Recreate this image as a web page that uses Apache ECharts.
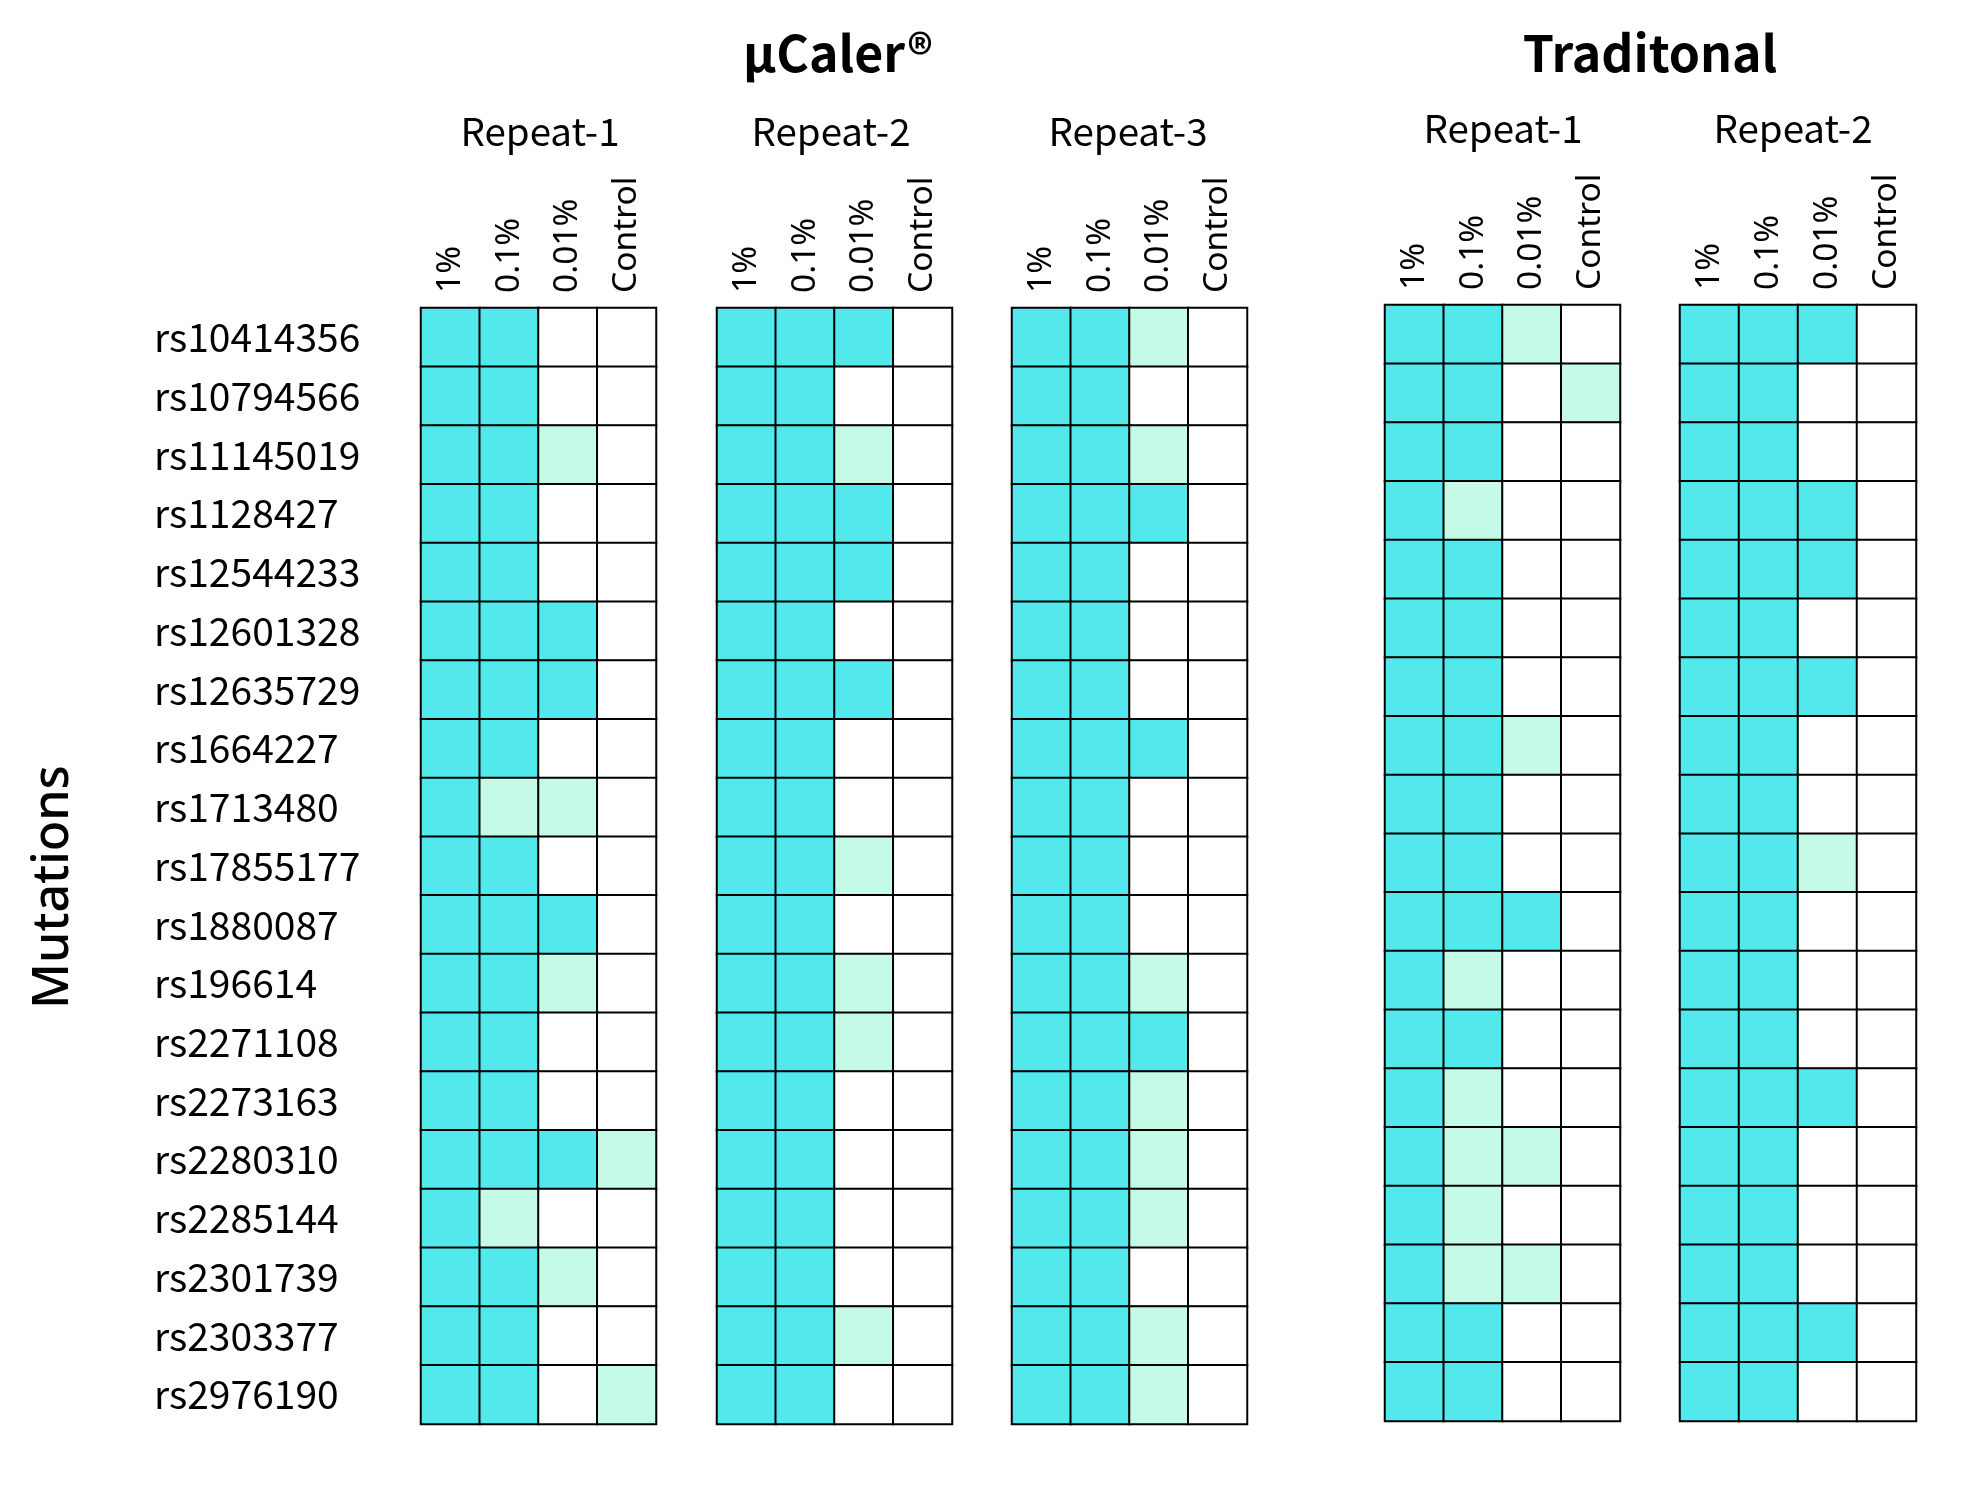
<!DOCTYPE html>
<html>
<head>
<meta charset="utf-8">
<script src="https://cdn.jsdelivr.net/npm/echarts@6/dist/echarts.min.js"></script>
<style>
html,body{margin:0;padding:0;background:#fff;}
#chart{width:1973px;height:1497px;}
</style>
</head>
<body>
<div id="chart"></div>
<script>
// ---- data ----
const mutations = ['rs10414356','rs10794566','rs11145019','rs1128427','rs12544233','rs12601328','rs12635729','rs1664227','rs1713480','rs17855177','rs1880087','rs196614','rs2271108','rs2273163','rs2280310','rs2285144','rs2301739','rs2303377','rs2976190'];
const conditions = ['1%','0.1%','0.01%','Control'];
const groupNames = ['µCaler®','Traditonal'];
const repeatNames = ['Repeat-1','Repeat-2','Repeat-3','Repeat-1','Repeat-2'];
// 2 = detected (cyan), 1 = weak (mint), 0 = not detected (white)
const ucalerRepeat1 = [[2,2,0,0],[2,2,0,0],[2,2,1,0],[2,2,0,0],[2,2,0,0],[2,2,2,0],[2,2,2,0],[2,2,0,0],[2,1,1,0],[2,2,0,0],[2,2,2,0],[2,2,1,0],[2,2,0,0],[2,2,0,0],[2,2,2,1],[2,1,0,0],[2,2,1,0],[2,2,0,0],[2,2,0,1]];
const ucalerRepeat2 = [[2,2,2,0],[2,2,0,0],[2,2,1,0],[2,2,2,0],[2,2,2,0],[2,2,0,0],[2,2,2,0],[2,2,0,0],[2,2,0,0],[2,2,1,0],[2,2,0,0],[2,2,1,0],[2,2,1,0],[2,2,0,0],[2,2,0,0],[2,2,0,0],[2,2,0,0],[2,2,1,0],[2,2,0,0]];
const ucalerRepeat3 = [[2,2,1,0],[2,2,0,0],[2,2,1,0],[2,2,2,0],[2,2,0,0],[2,2,0,0],[2,2,0,0],[2,2,2,0],[2,2,0,0],[2,2,0,0],[2,2,0,0],[2,2,1,0],[2,2,2,0],[2,2,1,0],[2,2,1,0],[2,2,1,0],[2,2,0,0],[2,2,1,0],[2,2,1,0]];
const tradRepeat1 = [[2,2,1,0],[2,2,0,1],[2,2,0,0],[2,1,0,0],[2,2,0,0],[2,2,0,0],[2,2,0,0],[2,2,1,0],[2,2,0,0],[2,2,0,0],[2,2,2,0],[2,1,0,0],[2,2,0,0],[2,1,0,0],[2,1,1,0],[2,1,0,0],[2,1,1,0],[2,2,0,0],[2,2,0,0]];
const tradRepeat2 = [[2,2,2,0],[2,2,0,0],[2,2,0,0],[2,2,2,0],[2,2,2,0],[2,2,0,0],[2,2,2,0],[2,2,0,0],[2,2,0,0],[2,2,1,0],[2,2,0,0],[2,2,0,0],[2,2,0,0],[2,2,2,0],[2,2,0,0],[2,2,0,0],[2,2,0,0],[2,2,2,0],[2,2,0,0]];

// ---- layout ----
const panels = [ucalerRepeat1, ucalerRepeat2, ucalerRepeat3, tradRepeat1, tradRepeat2];
const gridBoxes = [
  {left:421, top:308, width:235, height:1116},
  {left:717, top:308, width:235, height:1116},
  {left:1012, top:308, width:235, height:1116},
  {left:1385, top:305, width:235, height:1116},
  {left:1680, top:305, width:236, height:1116}
];
const repeatCenters = [[540,131],[831,131],[1128,131],[1503,128],[1793,128]];
const groupCenters = [[838,53],[1650,53]];

const sansCJK = '"Noto Sans CJK SC", "Noto Sans", sans-serif';
const sans = '"Noto Sans", sans-serif';

const grids = [], xAxes = [], yAxes = [], series = [];
panels.forEach((p, i) => {
  grids.push(Object.assign({containLabel:false}, gridBoxes[i]));
  xAxes.push({
    type:'category', gridIndex:i, data:conditions, position:'top',
    axisLine:{show:false}, axisTick:{show:false}, splitLine:{show:false},
    axisLabel:{rotate:-90, margin:15, fontFamily:sans, fontSize:33.5, color:'#000', interval:0}
  });
  yAxes.push({
    type:'category', gridIndex:i, data:mutations, inverse:true,
    axisLine:{show:false}, axisTick:{show:false}, splitLine:{show:false},
    axisLabel: i === 0 ? {show:true, align:'left', margin:267, fontFamily:sansCJK, fontSize:39, color:'#000', interval:0} : {show:false}
  });
  const data = [];
  p.forEach((row, r) => row.forEach((v, c) => data.push([c, r, v])));
  series.push({
    type:'heatmap', xAxisIndex:i, yAxisIndex:i, data:data,
    itemStyle:{borderColor:'#000', borderWidth:2},
    emphasis:{disabled:true}, silent:true, progressive:0
  });
});

const graphics = [];
groupNames.forEach((g, i) => graphics.push({
  type:'text', x:groupCenters[i][0], y:groupCenters[i][1],
  style:{text:g, fill:'#000', font:'bold 50px ' + sansCJK, align:'center', verticalAlign:'middle'}
}));
repeatNames.forEach((g, i) => graphics.push({
  type:'text', x:repeatCenters[i][0], y:repeatCenters[i][1],
  style:{text:g, fill:'#000', font:'38.5px ' + sansCJK, align:'center', verticalAlign:'middle'}
}));
graphics.push({
  type:'text', x:54, y:887, rotation:Math.PI/2,
  style:{text:'Mutations', fill:'#000', font:'500 50px ' + sans, align:'center', verticalAlign:'middle'}
});

const chart = echarts.init(document.getElementById('chart'), null, {renderer:'canvas'});
chart.setOption({
  backgroundColor:'#fff',
  animation:false,
  grid:grids, xAxis:xAxes, yAxis:yAxes, series:series,
  visualMap:{
    type:'piecewise', show:false, seriesIndex:[0,1,2,3,4], dimension:2,
    pieces:[{value:0, color:'#ffffff'},{value:1, color:'#c5fbe6'},{value:2, color:'#53e9ec'}]
  },
  graphic:graphics
});
</script>
</body>
</html>
